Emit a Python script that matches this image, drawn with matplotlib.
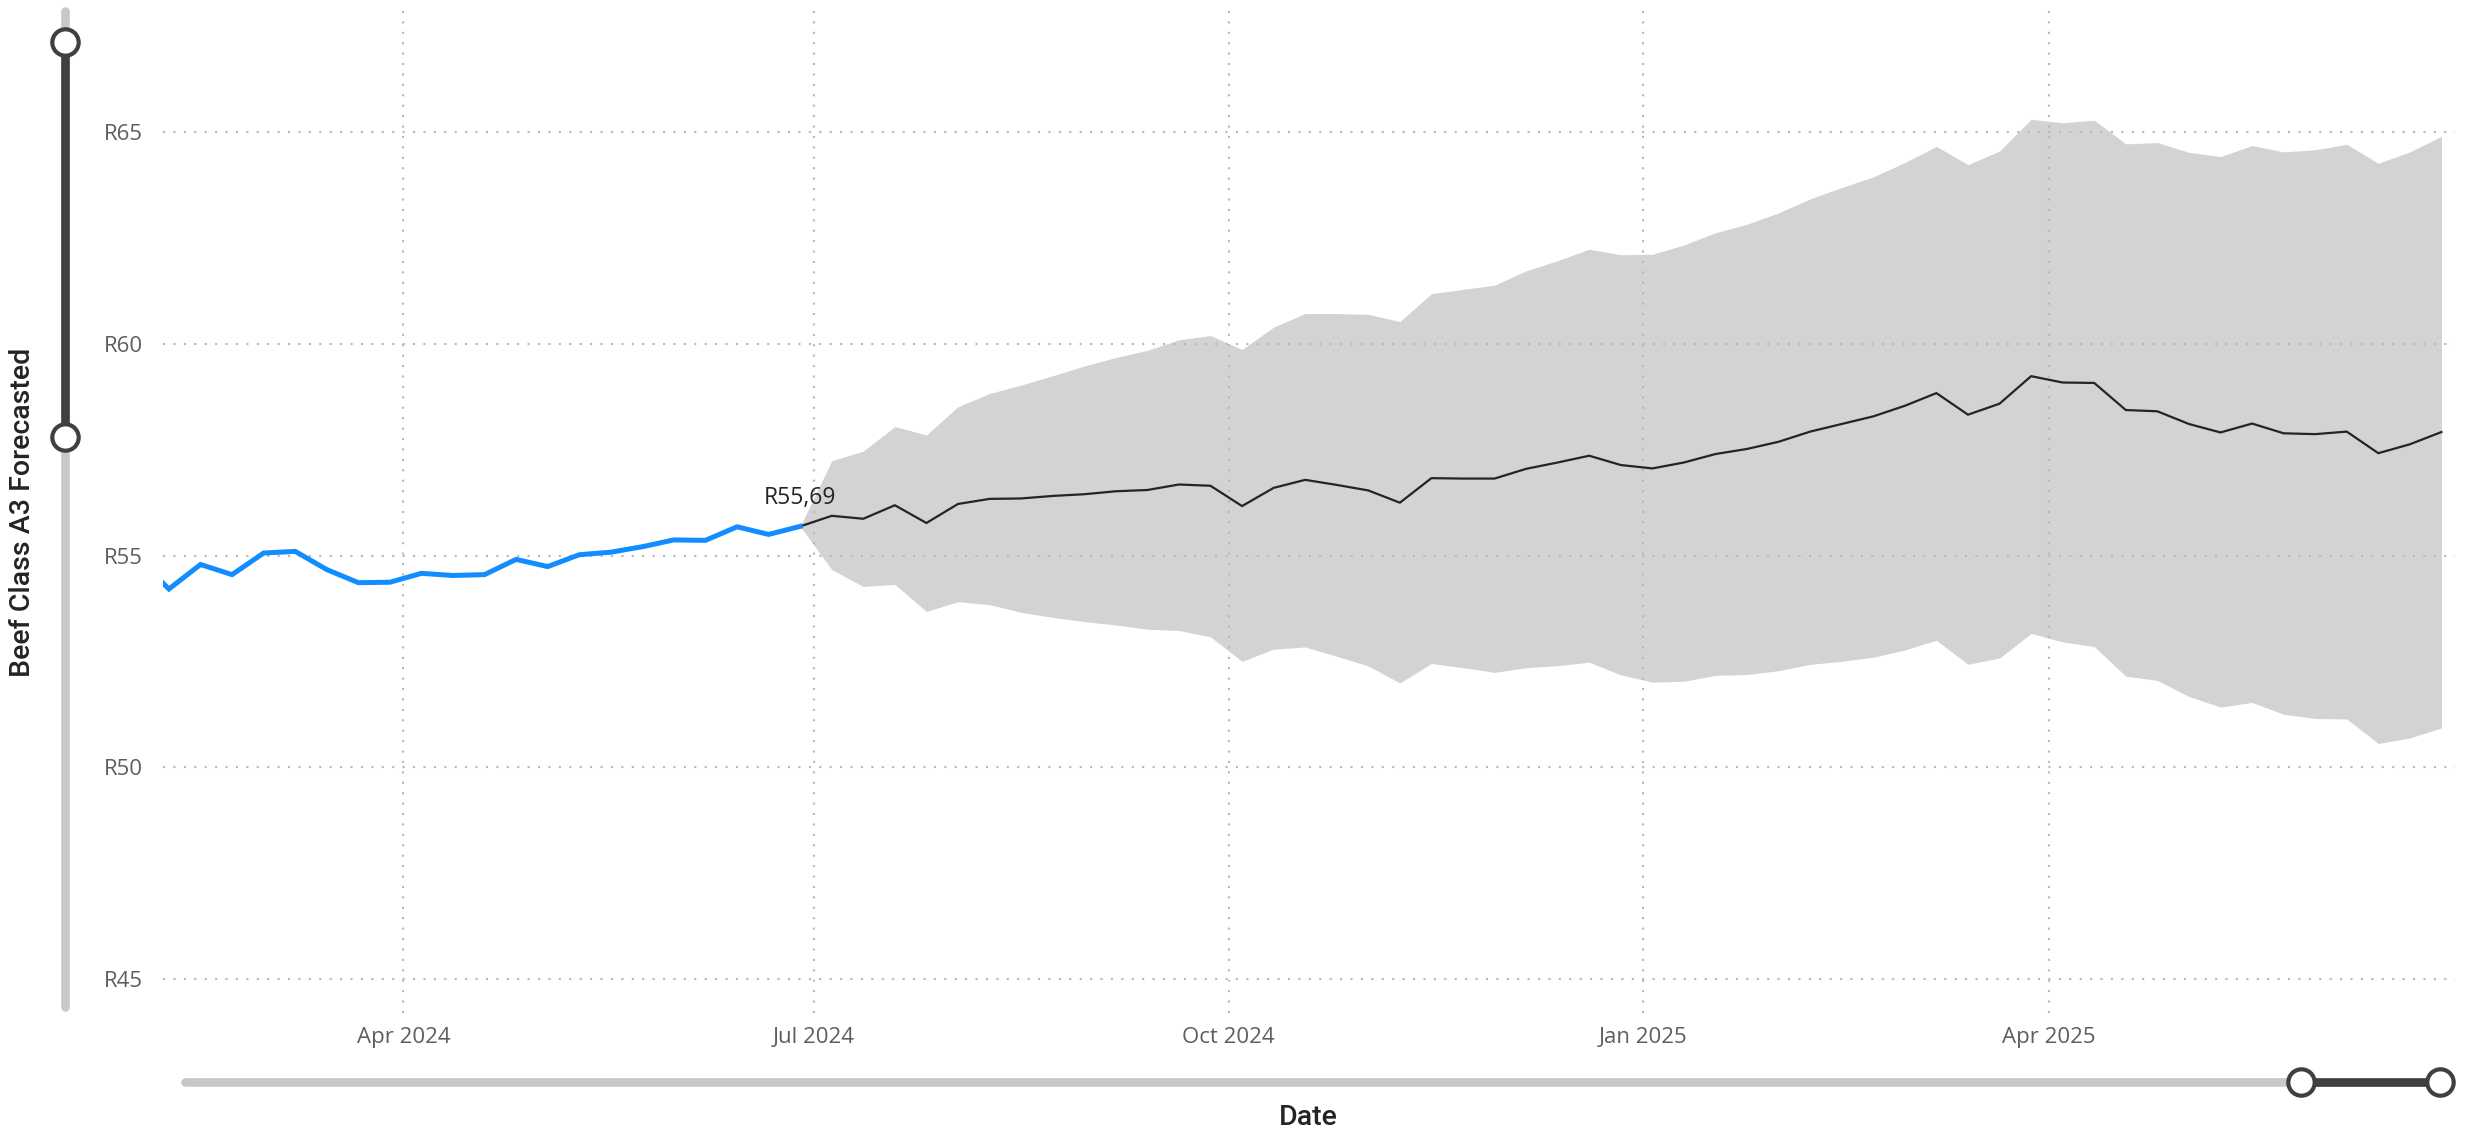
import matplotlib
matplotlib.use("Agg")
import matplotlib.pyplot as plt
import matplotlib.dates as mdates
import pandas as pd

# Actual weekly prices (first point sits just left of the visible range)
actual_dates = pd.date_range("2024-02-02", periods=22, freq="7D")
actual = [54.95, 54.21, 54.79, 54.55, 55.06, 55.10, 54.67, 54.36, 54.37, 54.58, 54.53,
          54.55, 54.91, 54.74, 55.02, 55.08, 55.21, 55.37, 55.36, 55.68, 55.50, 55.69]

# Forecast with confidence band, weekly from the last actual point
fc_dates = pd.date_range("2024-06-28", periods=53, freq="7D")
forecast = [55.69,
            55.94, 55.87, 56.19, 55.77,
            56.22, 56.34, 56.35, 56.41, 56.45,
            56.52, 56.55, 56.68, 56.65,
            56.17, 56.60, 56.79, 56.67,
            56.54, 56.25, 56.83, 56.82, 56.82,
            57.05, 57.20, 57.36, 57.14,
            57.06, 57.20, 57.40, 57.52, 57.69,
            57.93, 58.11, 58.29, 58.54,
            58.84, 58.33, 58.59, 59.24,
            59.09, 59.08, 58.44, 58.41,
            58.11, 57.91, 58.12, 57.89, 57.87,
            57.93, 57.42, 57.63, 57.92]
upper = [55.69,
         57.24, 57.47, 58.05, 57.85,
         58.52, 58.83, 59.03, 59.25, 59.48,
         59.68, 59.85, 60.10, 60.20,
         59.87, 60.40, 60.72, 60.72,
         60.70, 60.53, 61.19, 61.29, 61.39,
         61.73, 61.97, 62.24, 62.11,
         62.12, 62.34, 62.63, 62.83, 63.10,
         63.43, 63.70, 63.95, 64.29,
         64.67, 64.24, 64.56, 65.31,
         65.23, 65.29, 64.73, 64.76,
         64.53, 64.43, 64.69, 64.54, 64.59,
         64.72, 64.27, 64.54, 64.91]
lower = [55.69,
         54.67, 54.27, 54.32, 53.68,
         53.91, 53.84, 53.66, 53.54, 53.44,
         53.36, 53.26, 53.23, 53.08,
         52.50, 52.79, 52.84, 52.62,
         52.39, 51.99, 52.45, 52.35, 52.24,
         52.35, 52.40, 52.48, 52.18,
         52.01, 52.03, 52.17, 52.19, 52.28,
         52.43, 52.50, 52.60, 52.77,
         53.00, 52.43, 52.58, 53.16,
         52.96, 52.85, 52.15, 52.05,
         51.67, 51.42, 51.53, 51.25, 51.15,
         51.14, 50.56, 50.69, 50.93]

y_ticks = [45, 50, 55, 60, 65]

W, H = 2474, 1134
fig = plt.figure(figsize=(W / 100, H / 100), dpi=100)
ax = fig.add_axes([0.0657, 0.1067, 0.9266, 0.8836])

ax.fill_between(fc_dates, lower, upper, color="#d3d3d3", linewidth=0, zorder=0.3)
ax.plot(fc_dates, forecast, color="#252423", linewidth=1.6, zorder=2)
ax.plot(actual_dates, actual, color="#118DFF", linewidth=3.6, zorder=3,
        solid_joinstyle="miter")

last_v = actual[-1]
ax.annotate("R{:.2f}".format(last_v).replace(".", ","), (actual_dates[-1], last_v),
            xytext=(0, 12), textcoords="offset points", ha="center", va="bottom",
            fontsize=16.5, color="#252423", family=["Open Sans", "DejaVu Sans"])

ax.set_xlim(pd.Timestamp("2024-02-07 14:00"), pd.Timestamp("2025-06-30"))
ax.set_ylim(44.19, 67.87)
ax.set_yticks(y_ticks)
ax.yaxis.set_major_formatter(plt.FuncFormatter(lambda v, p: "R{:.0f}".format(v)))
ax.xaxis.set_major_locator(mdates.MonthLocator(bymonth=[1, 4, 7, 10]))
ax.xaxis.set_major_formatter(mdates.DateFormatter("%b %Y"))

ax.set_axisbelow(True)
ax.grid(True, color="#b8b8b8", linestyle=(0, (1, 4)), linewidth=1.5)
for s in ax.spines.values():
    s.set_visible(False)
ax.tick_params(axis="both", length=0, labelsize=16, labelcolor="#605E5C")
ax.tick_params(axis="y", pad=14)
ax.tick_params(axis="x", pad=10)
for lab in ax.get_xticklabels() + ax.get_yticklabels():
    lab.set_family(["Open Sans", "DejaVu Sans"])

ax.set_ylabel("Beef Class A3 Forecasted", fontsize=20.5, color="#252423",
              family=["Roboto", "DejaVu Sans"], fontweight="medium")
ax.yaxis.set_label_coords(-0.0552, 0.5)
ax.set_xlabel("Date", fontsize=20.5, color="#252423",
              family=["Roboto", "DejaVu Sans"], fontweight="medium")
ax.xaxis.set_label_coords(0.5, -0.091)

# zoom sliders drawn in pixel coordinates on an overlay
ov = fig.add_axes([0, 0, 1, 1])
ov.set_xlim(0, W)
ov.set_ylim(H, 0)
ov.axis("off")
track = "#c8c8c8"
dark = "#404040"
# vertical slider
ov.plot([64.5, 64.5], [11, 1007], color=track, linewidth=6.2, solid_capstyle="round")
ov.plot([64.5, 64.5], [42, 437], color=dark, linewidth=6.2)
ov.plot([64.5, 64.5], [42, 437], linestyle="none", marker="o", markersize=19,
        markerfacecolor="white", markeredgecolor=dark, markeredgewidth=3)
# horizontal slider
ov.plot([185, 2440], [1082, 1082], color=track, linewidth=6.2, solid_capstyle="round")
ov.plot([2301, 2440], [1082, 1082], color=dark, linewidth=6.2)
ov.plot([2301, 2440], [1082, 1082], linestyle="none", marker="o", markersize=19,
        markerfacecolor="white", markeredgecolor=dark, markeredgewidth=3)

fig.savefig("out.png", dpi=100)
